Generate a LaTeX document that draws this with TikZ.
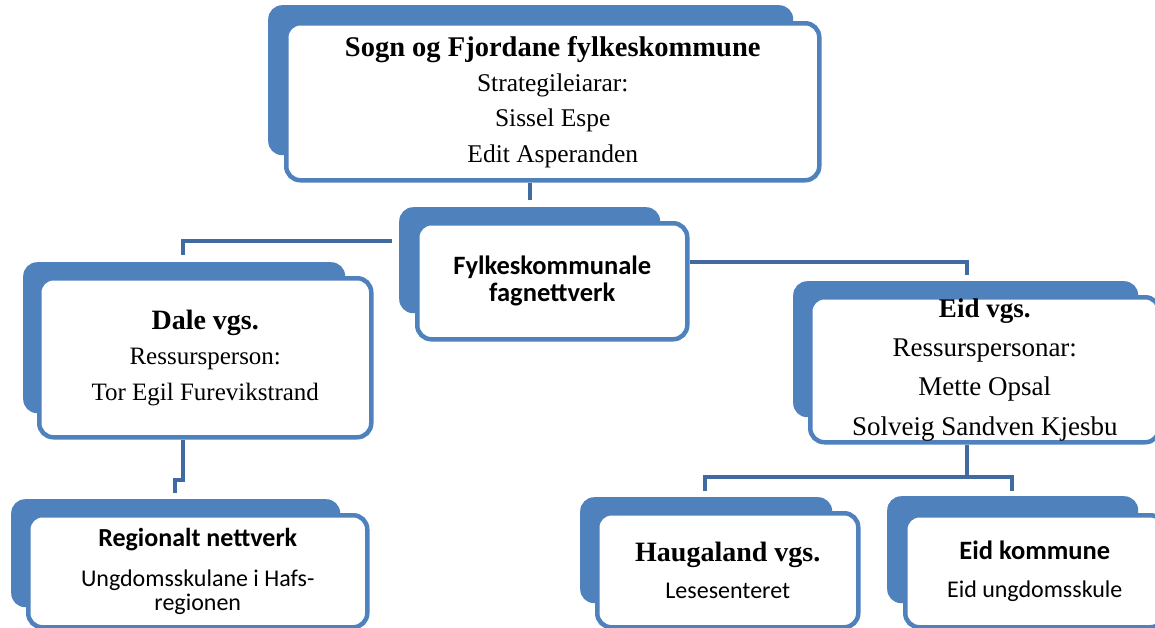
\documentclass[tikz,border=0pt]{standalone}
\usepackage{fontspec}
\setmainfont{Liberation Serif}
\newfontfamily\calib{Carlito}
\definecolor{boxblue}{HTML}{4F81BD}
\definecolor{lineblue}{HTML}{416BA0}

\begin{document}
\begin{tikzpicture}[x=1pt,y=-1pt]
\tikzstyle{backbox}=[fill=boxblue, rounded corners=14pt, anchor=north west, inner sep=0pt]
\tikzstyle{frontbox}=[draw=boxblue, line width=4.5pt, fill=white, rounded corners=14pt, anchor=north west, inner sep=0pt, align=center]
\tikzstyle{link}=[draw=lineblue, line width=4pt]
\useasboundingbox (0,0) rectangle (1155,627);

\node[backbox, minimum width=525, minimum height=150] (SognB) at (268,5) {};
\node[frontbox, minimum width=533, minimum height=157, font=\fontsize{25.5}{35.3}\selectfont] (Sogn) at (284,21)
  {{\bfseries\fontsize{28.5}{35.3}\selectfont Sogn og Fjordane fylkeskommune}\\ Strategileiarar:\\ Sissel Espe\\ Edit Asperanden};

\node[backbox, minimum width=261, minimum height=106] (FagB) at (399,207) {};
\node[frontbox, minimum width=270, minimum height=116, font=\calib\bfseries\fontsize{26.5}{27}\selectfont] (Fag) at (415,221)
  {Fylkeskommunale\\ fagnettverk};

\node[backbox, minimum width=322, minimum height=151] (DaleB) at (23,262) {};
\node[frontbox, minimum width=332, minimum height=159, font=\fontsize{25}{35.5}\selectfont] (Dale) at (37,276)
  {{\bfseries\fontsize{28}{35.5}\selectfont Dale vgs.}\\ Ressursperson:\\ Tor Egil Furevikstrand};

\node[backbox, minimum width=345, minimum height=136] (EidB) at (793,281) {};
\node[frontbox, minimum width=349, minimum height=145, font=\fontsize{27}{39.3}\selectfont] (Eid) at (808,295)
  {{\bfseries Eid vgs.}\\ Ressurspersonar:\\ Mette Opsal\\ Solveig Sandven Kjesbu};

\node[backbox, minimum width=329, minimum height=108] (RegB) at (11,499) {};
\node[frontbox, minimum width=339, minimum height=112, font=\calib\fontsize{24}{23.5}\selectfont] (Reg) at (26,513)
  {{\bfseries\fontsize{26}{23.5}\selectfont Regionalt nettverk}\\[17pt] Ungdomsskulane i Hafs-\\ regionen};

\node[backbox, minimum width=252, minimum height=106] (HaugB) at (580,497) {};
\node[frontbox, minimum width=261, minimum height=114, font=\calib\fontsize{24}{37}\selectfont] (Haug) at (595,511)
  {{\rmfamily\bfseries\fontsize{28}{37}\selectfont Haugaland vgs.}\\ Lesesenteret};

\node[backbox, minimum width=251, minimum height=107] (EidKB) at (887,496) {};
\node[frontbox, minimum width=259, minimum height=112, font=\calib\fontsize{24}{38}\selectfont] (EidK) at (903,513)
  {{\bfseries\fontsize{26.5}{38}\selectfont Eid kommune}\\ Eid ungdomsskule};

\draw[link, shorten >=7pt] (Sogn.south -| 530,0) -- (FagB.north -| 530,0);
\draw[link, shorten <=7pt, shorten >=7pt] (FagB.west |- 0,241) -| (DaleB.north -| 183,0);
\draw[link, shorten >=6pt] (Fag.east |- 0,262) -| (EidB.north -| 967,0);
\draw[link, shorten >=6pt] (Dale.south -| 183,0) -- (183,480) -- (175,480) -- (RegB.north -| 175,0);
\draw[link, shorten >=6pt] (Eid.south -| 967,0) -- (967,477) -| (HaugB.north -| 705,0);
\draw[link, shorten >=5pt] (967,477) -| (EidKB.north -| 1012,0);
\end{tikzpicture}
\end{document}
